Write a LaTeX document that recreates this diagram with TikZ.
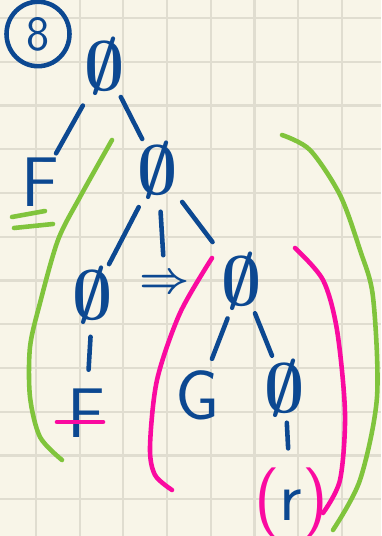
\documentclass[tikz,border=0pt]{standalone}
\usepackage{amsmath,amssymb}
\usetikzlibrary{shapes.geometric}
\definecolor{paper}{RGB}{248,245,232}
\definecolor{gridc}{RGB}{224,221,208}
\definecolor{ink}{RGB}{12,72,145}
\definecolor{hgreen}{RGB}{128,196,60}
\definecolor{hpink}{RGB}{250,10,160}
\newcommand{\bigempty}{\scalebox{2.3}{$\boldsymbol{\emptyset}$}}
\tikzset{
  emp/.style={circle, inner sep=0pt, text=ink, font=\LARGE},
  letter/.style={circle, inner sep=0pt, minimum size=1.3cm, text=ink, font=\sffamily\fontsize{40}{40}\selectfont},
  edge/.style={ink, line width=2.6pt, line cap=round},
  hl/.style={line width=2.6pt, line cap=round},
}
\begin{document}
\begin{tikzpicture}[x=0.02cm, y=-0.02cm]
  \fill[paper] (0,0) rectangle (381,536);
  \useasboundingbox (0,0) rectangle (381,536);
  \foreach \i in {0,...,7}
    \draw[gridc, line width=1.2pt] (36+43.7*\i,0) -- (36+43.7*\i,536);
  \foreach \j in {0,...,11}
    \draw[gridc, line width=1.2pt] (0,18+43.75*\j) -- (381,18+43.75*\j);

  % number of the exercise
  \node[ellipse, draw=ink, line width=2.6pt, minimum width=1.26cm, minimum height=1.16cm,
        text=ink, font=\sffamily\fontsize{28}{28}\selectfont] (num) at (38,34) {8};

  % tree
  \node[emp] (root) at (105,66) {\bigempty};
  \node[letter] (f1) at (40,182) {F};
  \node[emp] (n2) at (158,170) {\bigempty};
  \node[emp] (n3) at (93,295) {\bigempty};
  \node[text=ink, font=\fontsize{28}{28}\selectfont\boldmath] (imp) at (165,284) {$\Rightarrow$};
  \node[emp] (n4) at (242,281) {\bigempty};
  \node[letter] (f2) at (86,413) {F};
  \node[letter] (g) at (198,395) {G};
  \node[emp] (n5) at (285,388) {\bigempty};
  \node[letter, minimum size=0pt] (r) at (291,503) {\textcolor{hpink}{(}r\textcolor{hpink}{)}};

  \draw[edge, shorten <=6pt] (root) -- (f1);
  \draw[edge] (root) -- (n2);
  \draw[edge, shorten <=4pt] (n2) -- (n3);
  \draw[edge, shorten <=4pt, shorten >=8pt] (n2) -- (imp);
  \draw[edge, shorten <=3pt, shorten >=8pt] (n2) -- (n4);
  \draw[edge, shorten <=4pt, shorten >=6pt] (n3) -- (f2);
  \draw[edge, shorten <=3pt, shorten >=3pt] (n4) -- (g);
  \draw[edge] (n4) -- (n5);
  \draw[edge, shorten >=2pt] (n5) -- (r);

  % marks
  \draw[hl, hgreen] (12,217) -- (45,211);
  \draw[hl, hgreen] (14,228) -- (53,224);
  \draw[hl, hpink] (57,422) -- (103,422);

  % brackets
  \draw[hl, hgreen] plot[smooth] coordinates {(112,140) (80,197) (58,240) (40,303) (30,347) (30,397) (40,437) (62,460)};
  \draw[hl, hgreen] plot[smooth] coordinates {(282,135) (310,150) (340,195) (360,250) (373,297) (377,397) (360,480) (333,530)};
  \draw[hl, hpink] plot[smooth] coordinates {(212,258) (180,313) (157,380) (150,447) (155,475) (172,490)};
  \draw[hl, hpink] plot[smooth] coordinates {(295,248) (323,280) (337,330) (345,413) (340,480) (323,513)};
\end{tikzpicture}
\end{document}
